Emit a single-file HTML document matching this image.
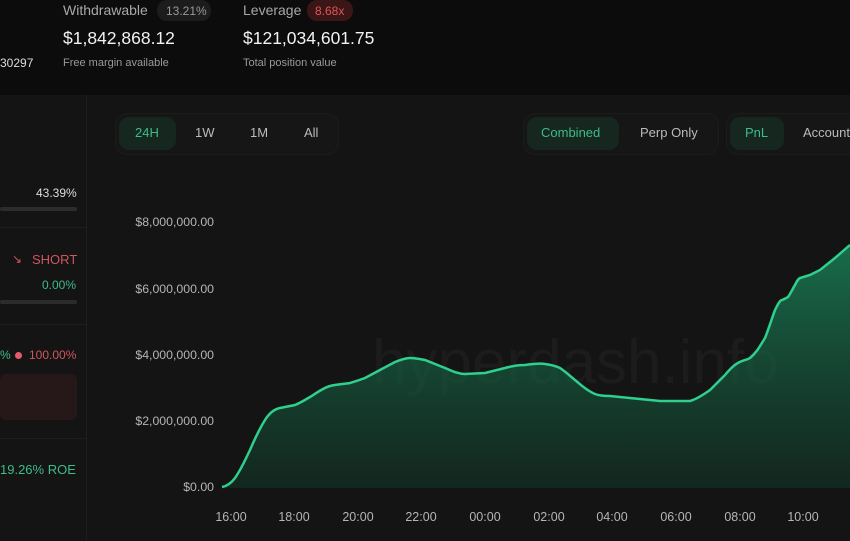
<!DOCTYPE html>
<html><head><meta charset="utf-8"><style>
body{margin:0;width:850px;height:541px;overflow:hidden;background:#141414;font-family:"Liberation Sans",sans-serif;position:relative}
.t{position:absolute;white-space:nowrap}
.hdr{position:absolute;left:0;top:0;width:850px;height:95px;background:#0c0c0c}
.pill{position:absolute;border-radius:10px}
</style></head><body>
<div class="hdr"></div>
<div class="t" style="left:63px;top:2px;font-size:14px;color:#a8a8a8">Withdrawable</div>
<div class="pill" style="left:157px;top:0;width:54px;height:21px;background:#1c1c1c"></div>
<div class="t" style="left:166px;top:4px;font-size:12px;color:#999">13.21%</div>
<div class="t" style="left:63px;top:28px;font-size:17.5px;color:#f2f2f2">$1,842,868.12</div>
<div class="t" style="left:63px;top:57px;font-size:11px;color:#9a9a9a">Free margin available</div>
<div class="t" style="left:0;top:56px;font-size:12px;color:#ddd">30297</div>
<div class="t" style="left:243px;top:2px;font-size:14px;color:#a8a8a8">Leverage</div>
<div class="pill" style="left:307px;top:0;width:46px;height:21px;background:#3a1616"></div>
<div class="t" style="left:315px;top:4px;font-size:12px;color:#e0545a">8.68x</div>
<div class="t" style="left:243px;top:28px;font-size:17.5px;color:#f2f2f2">$121,034,601.75</div>
<div class="t" style="left:243px;top:57px;font-size:11px;color:#9a9a9a">Total position value</div>

<div style="position:absolute;left:86px;top:95px;width:1px;height:446px;background:#1e1e1e"></div>
<div class="t" style="left:36px;top:186px;font-size:12px;color:#ddd">43.39%</div>
<div style="position:absolute;left:0;top:207px;width:77px;height:4px;background:#2c2c2c;border-radius:2px"></div>
<div style="position:absolute;left:0;top:227px;width:86px;height:1px;background:#1e1e1e"></div>
<div class="t" style="left:12px;top:252px;font-size:12px;color:#d05560">↘</div>
<div class="t" style="left:32px;top:252px;font-size:13px;color:#d05560">SHORT</div>
<div class="t" style="left:42px;top:278px;font-size:12px;color:#3dbb8a">0.00%</div>
<div style="position:absolute;left:0;top:300px;width:77px;height:4px;background:#2c2c2c;border-radius:2px"></div>
<div style="position:absolute;left:0;top:324px;width:86px;height:1px;background:#1e1e1e"></div>
<div class="t" style="left:0;top:348px;font-size:12px;color:#3dbb8a">%</div>
<div style="position:absolute;left:15px;top:352px;width:7px;height:7px;border-radius:50%;background:#e85a6a"></div>
<div class="t" style="left:29px;top:348px;font-size:12px;color:#d05560">100.00%</div>
<div style="position:absolute;left:0;top:374px;width:77px;height:46px;background:#261818;border-radius:6px"></div>
<div style="position:absolute;left:0;top:438px;width:86px;height:1px;background:#1e1e1e"></div>
<div class="t" style="left:0;top:462px;font-size:13px;color:#3dbb8a">19.26% ROE</div>

<div class="pill" style="left:115px;top:113px;width:222px;height:40px;background:#161616;border:1px solid #1c1c1c;border-radius:12px"></div>
<div class="pill" style="left:119px;top:117px;width:57px;height:33px;background:#15271f"></div>
<div class="t" style="left:135px;top:125px;font-size:13px;color:#3dbb8a">24H</div>
<div class="t" style="left:195px;top:125px;font-size:13px;color:#bbb">1W</div>
<div class="t" style="left:250px;top:125px;font-size:13px;color:#bbb">1M</div>
<div class="t" style="left:304px;top:125px;font-size:13px;color:#bbb">All</div>
<div class="pill" style="left:523px;top:113px;width:194px;height:40px;background:#161616;border:1px solid #1c1c1c;border-radius:12px"></div>
<div class="pill" style="left:527px;top:117px;width:92px;height:33px;background:#15271f"></div>
<div class="t" style="left:541px;top:125px;font-size:13px;color:#3dbb8a">Combined</div>
<div class="t" style="left:640px;top:125px;font-size:13px;color:#bbb">Perp Only</div>
<div class="pill" style="left:726px;top:113px;width:140px;height:40px;background:#161616;border:1px solid #1c1c1c;border-radius:12px"></div>
<div class="pill" style="left:730px;top:117px;width:54px;height:33px;background:#15271f"></div>
<div class="t" style="left:745px;top:125px;font-size:13px;color:#3dbb8a">PnL</div>
<div class="t" style="left:803px;top:125px;font-size:13px;color:#bbb">Account</div>

<div class="t" style="left:372px;top:327px;font-size:62px;color:#1c1c1c">hyperdash.info</div>

<svg style="position:absolute;left:0;top:0" width="850" height="541">
<defs><linearGradient id="g" x1="0" y1="0" x2="0" y2="1">
<stop offset="0" stop-color="#1a8a5e" stop-opacity="0.75"/>
<stop offset="1" stop-color="#123a2a" stop-opacity="0.5"/></linearGradient></defs>
<g font-size="12.3" fill="#b5b5b5" text-anchor="end" font-family="Liberation Sans">
<text x="214" y="226">$8,000,000.00</text><text x="214" y="293">$6,000,000.00</text>
<text x="214" y="359">$4,000,000.00</text><text x="214" y="425">$2,000,000.00</text>
<text x="214" y="491">$0.00</text></g>
<g font-size="12.5" fill="#b5b5b5" text-anchor="middle" font-family="Liberation Sans">
<text x="231" y="521">16:00</text><text x="294" y="521">18:00</text><text x="358" y="521">20:00</text>
<text x="421" y="521">22:00</text><text x="485" y="521">00:00</text><text x="549" y="521">02:00</text>
<text x="612" y="521">04:00</text><text x="676" y="521">06:00</text><text x="740" y="521">08:00</text>
<text x="803" y="521">10:00</text></g>
<path d="M222,487 C228,486 232,482 235,478 C242,468 245,460 250,450 C256,436 260,428 265,420 C270,412 275,409 280,408 L295,405 C300,403 305,400 310,397 C318,392 323,388 330,386 C338,384 345,384 350,383 C356,381 360,380 365,378 L380,370 L395,362 C400,360 405,358 410,358 C415,358 420,359 425,360 L445,368 C452,371 458,374 465,374 L485,373 L505,368 C512,366 518,365 525,365 C532,364 540,363 545,364 C552,365 556,366 560,368 C566,372 570,376 575,380 C582,386 588,391 595,394 C600,396 605,396 610,396 L640,399 L660,401 L690,401 C697,399 703,395 710,390 L725,375 C730,369 734,365 738,363 C743,360 747,360 750,358 C757,352 760,346 765,338 C769,328 772,318 775,310 C778,304 780,300 782,300 C785,299 786,298 788,297 C791,293 793,288 795,285 C797,281 798,279 800,278 L810,275 L820,270 L835,258 L850,245 L850,488 L222,488 Z" fill="url(#g)"/>
<path d="M222,487 C228,486 232,482 235,478 C242,468 245,460 250,450 C256,436 260,428 265,420 C270,412 275,409 280,408 L295,405 C300,403 305,400 310,397 C318,392 323,388 330,386 C338,384 345,384 350,383 C356,381 360,380 365,378 L380,370 L395,362 C400,360 405,358 410,358 C415,358 420,359 425,360 L445,368 C452,371 458,374 465,374 L485,373 L505,368 C512,366 518,365 525,365 C532,364 540,363 545,364 C552,365 556,366 560,368 C566,372 570,376 575,380 C582,386 588,391 595,394 C600,396 605,396 610,396 L640,399 L660,401 L690,401 C697,399 703,395 710,390 L725,375 C730,369 734,365 738,363 C743,360 747,360 750,358 C757,352 760,346 765,338 C769,328 772,318 775,310 C778,304 780,300 782,300 C785,299 786,298 788,297 C791,293 793,288 795,285 C797,281 798,279 800,278 L810,275 L820,270 L835,258 L850,245" fill="none" stroke="#2fcf8d" stroke-width="2.5"/>
</svg>
</body></html>
